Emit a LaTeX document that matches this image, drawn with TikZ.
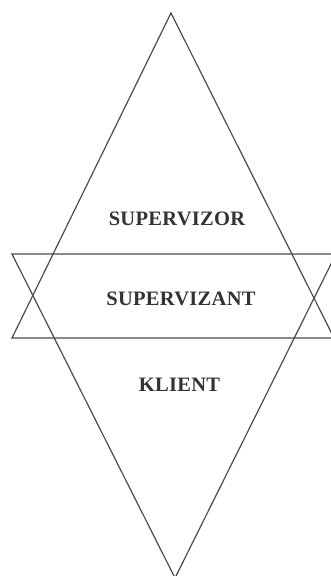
\documentclass[tikz,border=0pt]{standalone}
\usepackage{fontspec}
\newfontfamily\rolefont[LetterSpace=1.5]{Liberation Serif}
\begin{document}
\begin{tikzpicture}[x=1pt, y=-1pt,
    tri/.style={draw=black!70, line width=1.2pt, line join=miter},
    role/.style={font=\rolefont\bfseries\fontsize{20.5}{20.5}\selectfont, text=black!80, inner sep=0pt}]
  \useasboundingbox (0,0) rectangle (331,576);
  \fill[white] (0,0) rectangle (331,576);

  % Corners: upward triangle and downward triangle
  \coordinate (upTop) at (171,13);
  \coordinate (upLeft) at (12,338);
  \coordinate (upRight) at (334,338);
  \coordinate (dnBottom) at (175,578);
  \coordinate (dnLeft) at (12,254);
  \coordinate (dnRight) at (336,254);

  % The two triangles, cut at the right edge
  \begin{scope}
    \clip (0,0) rectangle (331,576);
    \draw[tri] (upTop) -- (upLeft) -- (upRight) -- cycle;
    \draw[tri] (dnBottom) -- (dnLeft) -- (dnRight) -- cycle;
  \end{scope}

  % Roles
  \node[role] (supervizor) at (177,219) {SUPERVIZOR};
  \node[role] (supervizant) at (181,299) {SUPERVIZANT};
  \node[role] (klient) at (179.5,385) {KLIENT};
\end{tikzpicture}
\end{document}
